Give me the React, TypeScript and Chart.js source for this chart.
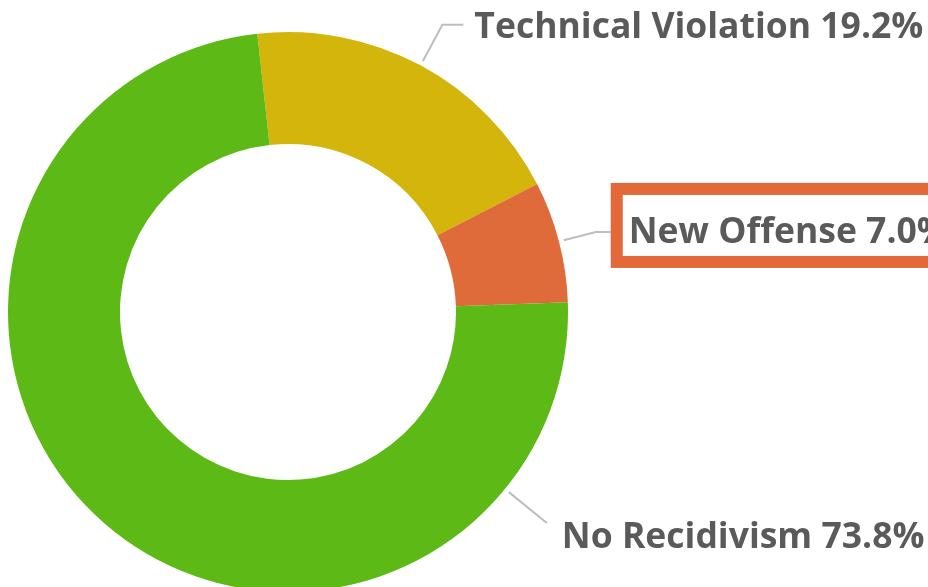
import React, { useEffect, useRef } from "react";
import { Chart, registerables } from "chart.js";

Chart.register(...registerables);

const categories = ["Technical Violation", "New Offense", "No Recidivism"];
const percentages = [19.2, 7.0, 73.8];
const sliceColors = ["#D4B50C", "#DE6B39", "#5DB915"];
// where along each slice the leader line leaves (0 = slice start, 1 = slice end)
const labelAnchors = [0.5, 0.5, 0.155];
const elbowDistances = [46, 38, 54];
const horizontalLegs = [21, 15, 0];
const textDx = [11, 18, 15];
const textDy = [13, 11, 25];
const highlighted = [false, true, false];

export default function App() {
  const ref = useRef<HTMLCanvasElement>(null);

  useEffect(() => {
    document.body.style.margin = "0";
    document.body.style.overflow = "hidden";
    const canvas = ref.current;
    if (!canvas) return;

    const labelPlugin = {
      id: "outerLabels",
      afterDraw(chart: any) {
        const ctx = chart.ctx;
        const meta = chart.getDatasetMeta(0);
        ctx.save();
        meta.data.forEach((arc: any, i: number) => {
          const { x, y, startAngle, endAngle, outerRadius } = arc.getProps(
            ["x", "y", "startAngle", "endAngle", "outerRadius"],
            true
          );
          const a = startAngle + (endAngle - startAngle) * labelAnchors[i];
          const c = Math.cos(a);
          const s = Math.sin(a);
          const x0 = x + c * (outerRadius + 5);
          const y0 = y + s * (outerRadius + 5);
          const x1 = x + c * (outerRadius + elbowDistances[i]);
          const y1 = y + s * (outerRadius + elbowDistances[i]);
          const x2 = x1 + horizontalLegs[i];

          ctx.strokeStyle = "#BDBDBD";
          ctx.lineWidth = 2;
          ctx.beginPath();
          ctx.moveTo(x0, y0);
          ctx.lineTo(x1, y1);
          ctx.lineTo(x2, y1);
          ctx.stroke();

          const label = `${categories[i]} ${percentages[i].toFixed(1)}%`;
          const tx = x2 + textDx[i];
          const baseline = y1 + textDy[i];
          ctx.font = 'bold 35.5px "Open Sans", sans-serif';
          ctx.fillStyle = "#5A5A5A";
          ctx.textBaseline = "alphabetic";
          ctx.textAlign = "left";
          ctx.fillText(label, tx, baseline);

          if (highlighted[i]) {
            ctx.strokeStyle = "#E4693A";
            ctx.lineWidth = 12;
            ctx.strokeRect(tx - 12, baseline - 54, 400, 73);
          }
        });
        ctx.restore();
      },
    };

    const chart = new Chart(canvas, {
      type: "doughnut",
      data: {
        labels: categories,
        datasets: [
          {
            data: percentages,
            backgroundColor: sliceColors,
            borderWidth: 0,
          },
        ],
      },
      options: {
        responsive: false,
        animation: false,
        rotation: -6.3,
        cutout: "60%",
        layout: { padding: { left: 8, right: 360, top: 32, bottom: 8 } },
        plugins: {
          legend: { display: false },
          tooltip: { enabled: false },
        },
      },
      plugins: [labelPlugin],
    });
    return () => chart.destroy();
  }, []);

  return (
    <div style={{ width: 928, height: 587, overflow: "hidden", position: "relative", background: "#fff" }}>
      <canvas ref={ref} width={928} height={600} style={{ display: "block" }} />
    </div>
  );
}
